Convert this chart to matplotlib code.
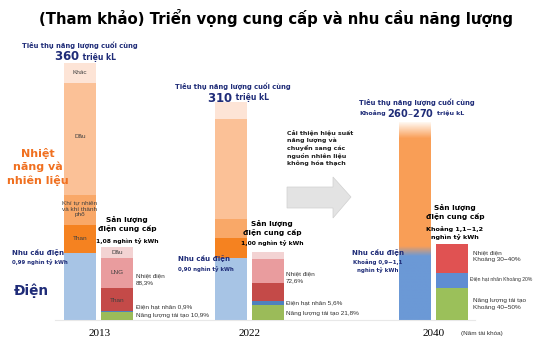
import numpy as np
import matplotlib.pyplot as plt

# final energy consumption (million kL), bottom -> top
demand_labels = ["Điện", "Than", "Khí", "Dầu", "Khác"]
demand_2013 = [94, 39, 42, 157, 28]
demand_2022 = [87, 28, 27, 139, 24]
demand_2040_elec = 92
demand_2040_fuel = 184

# electricity supply (thousand billion kWh), bottom -> top
supply_labels = ["Tái tạo", "Hạt nhân", "Than", "LNG", "Dầu"]
supply_2013 = [0.118, 0.010, 0.340, 0.444, 0.163]
supply_2022 = [0.218, 0.056, 0.280, 0.355, 0.090]
supply_2040 = [0.48, 0.22, 0.42]

W, H = 540, 360
fig = plt.figure(figsize=(5.4, 3.6), dpi=100)
fig.patch.set_facecolor("white")

# bars share one baseline at y = 320 px
base = 40
ax = fig.add_axes([0, 0, 1, 1])
ax.axis("off")
ax2 = ax.twinx()
ax2.set_ylim(-base / 67.6, (H - base) / 67.6)
ax2.axis("off")

dem_colors = ["#A7C4E5", "#F58220", "#F9A868", "#FBC197", "#FDE4D6"]
sup_colors = ["#9BBB59", "#4F81BD", "#C44A48", "#E99C9E", "#F3D3D3"]
bw = 32

def stack(axis, x, vals, colors):
    bottom = 0
    for v, c in zip(vals, colors):
        axis.bar(x, v, bw, bottom=bottom, color=c, linewidth=0)
        bottom += v

stack(ax, 80, demand_2013, dem_colors)
stack(ax, 231, demand_2022, dem_colors)
stack(ax2, 117, supply_2013, sup_colors)
stack(ax2, 268, supply_2022, sup_colors)
stack(ax2, 452, supply_2040, ["#9BC05A", "#5F8DD2", "#E05252"])

# 2040 demand bar with soft top and orange->blue blend
tot = demand_2040_elec + demand_2040_fuel
n = 200
ys = np.linspace(0, tot, n)
blue = np.array([0.42, 0.60, 0.84])
orange = np.array([0.98, 0.62, 0.34])
white = np.array([1.0, 0.97, 0.94])
img = np.zeros((n, 1, 3))
for i, yv in enumerate(ys):
    k = np.clip((yv - (demand_2040_elec - 3)) / 14, 0, 1)
    c = blue * (1 - k) + orange * k
    f = np.clip((tot - yv) / 22, 0, 1)
    img[i, 0] = white * (1 - f) + c * f
ax.imshow(img, extent=(415 - bw / 2, 415 + bw / 2, 0, tot), origin="lower",
          aspect="auto", interpolation="bilinear", zorder=2)
ax.set_xlim(0, W)
ax.set_ylim(-base / 0.714, (H - base) / 0.714)

# baseline
ax.plot([55, 475], [0, 0], color="#E8E8E8", lw=0.8)

# arrow
def px(x, y):
    return x / W, 1 - y / H
arrow_pts = [px(287, 187), px(333, 187), px(333, 177), px(351, 197),
             px(333, 218), px(333, 208), px(287, 208)]
fig.patches.append(plt.Polygon(arrow_pts, closed=True, transform=fig.transFigure,
                               facecolor="#E3E3E3", edgecolor="#D0D0D0", lw=0.5))

navy = "#1F2C78"
orange_t = "#F07020"
sans = "DejaVu Sans"
small = "Liberation Sans"

def t(x, y, s, size, **kw):
    kw.setdefault("ha", "center")
    kw.setdefault("va", "center")
    fig.text(x / W, 1 - y / H, s, fontsize=size, **kw)

t(276, 18, "(Tham khảo) Triển vọng cung cấp và nhu cầu năng lượng", 10.7,
  weight="bold", family=sans)

# 2013
t(80, 45, "Tiêu thụ năng lượng cuối cùng", 4.9, weight="bold", color=navy, family=sans)
t(80, 57, "$\\bf{360}$", 8.5, color=navy, ha="right", family=sans)
t(80, 57, " triệu kL", 5.5, weight="bold", color=navy, ha="left", family=sans)
t(38, 167, "Nhiệt\nnăng và\nnhiên liệu", 8, weight="bold", color=orange_t,
  family=sans, linespacing=1.3)
t(80, 73, "Khác", 4.6, color="#404040", family=small)
t(80, 137, "Dầu", 4.6, color="#404040", family=small)
t(80, 209, "Khí tự nhiên\nvà khí thành\nphố", 4.6, color="#404040", family=small,
  linespacing=1.2)
t(80, 239, "Than", 4.6, color="#404040", family=small)
t(38, 252, "Nhu cầu điện", 5.0, weight="bold", color=navy, family=sans)
t(40, 262, "0,99 nghìn tỷ kWh", 3.9, weight="bold", color=navy, family=sans)
t(31, 291, "Điện", 9.8, weight="bold", color=navy, family=sans)
t(127, 224, "Sản lượng\nđiện cung cấp", 5.3, weight="bold", family=sans, linespacing=1.25)
t(127, 241, "1,08 nghìn tỷ kWh", 4.3, weight="bold", family=sans)
t(117, 252, "Dầu", 4.6, color="#404040", family=small)
t(117, 273, "LNG", 4.6, color="#404040", family=small)
t(117, 300, "Than", 4.6, color="#404040", family=small)
t(136, 279, "Nhiệt điện\n88,3%", 4.6, ha="left", color="#303030", family=small,
  linespacing=1.4)
t(136, 307, "Điện hạt nhân 0,9%", 4.6, ha="left", color="#303030", family=small)
t(136, 316, "Năng lượng tái tạo 10,9%", 4.6, ha="left", color="#303030", family=small)
t(100, 333, "2013", 8, family="Liberation Serif")

# 2022
t(233, 86, "Tiêu thụ năng lượng cuối cùng", 4.9, weight="bold", color=navy, family=sans)
t(233, 98, "$\\bf{310}$", 8.5, color=navy, ha="right", family=sans)
t(233, 98, " triệu kL", 5.5, weight="bold", color=navy, ha="left", family=sans)
t(204, 258, "Nhu cầu điện", 5.0, weight="bold", color=navy, family=sans)
t(206, 269, "0,90 nghìn tỷ kWh", 3.9, weight="bold", color=navy, family=sans)
t(272, 228, "Sản lượng\nđiện cung cấp", 5.3, weight="bold", family=sans, linespacing=1.25)
t(272, 243, "1,00 nghìn tỷ kWh", 4.3, weight="bold", family=sans)
t(286, 277, "Nhiệt điện\n72,6%", 4.6, ha="left", color="#303030", family=small,
  linespacing=1.4)
t(286, 303, "Điện hạt nhân 5,6%", 4.6, ha="left", color="#303030", family=small)
t(286, 314, "Năng lượng tái tạo 21,8%", 4.6, ha="left", color="#303030", family=small)
t(250, 333, "2022", 8, family="Liberation Serif")

# arrow text
t(287, 148, "Cải thiện hiệu suất\nnăng lượng và\nchuyển sang các\nnguồn nhiên liệu\nkhông hóa thạch",
  4.5, weight="bold", ha="left", color="#202020", family=sans, linespacing=1.35)

# 2040
t(417, 102, "Tiêu thụ năng lượng cuối cùng", 4.9, weight="bold", color=navy, family=sans)
t(386, 113, "Khoảng", 4.5, weight="bold", color=navy, ha="right", family=sans)
t(387, 113, "$\\bf{260–270}$", 7, color=navy, ha="left", family=sans)
t(437, 113, "triệu kL", 4.5, weight="bold", color=navy, ha="left", family=sans)
t(378, 252, "Nhu cầu điện", 5.0, weight="bold", color=navy, family=sans)
t(378, 266, "Khoảng 0,9−1,1\nnghìn tỷ kWh", 4.0, weight="bold", color=navy, family=sans,
  linespacing=1.5)
t(455, 212, "Sản lượng\nđiện cung cấp", 5.3, weight="bold", family=sans, linespacing=1.25)
t(455, 233, "Khoảng 1,1−1,2\nnghìn tỷ kWh", 4.6, weight="bold", family=sans,
  linespacing=1.3)
t(473, 256, "Nhiệt điện\nKhoảng 30−40%", 4.6, ha="left", color="#303030", family=small,
  linespacing=1.4)
t(470, 280, "Điện hạt nhân Khoảng 20%", 3.6, ha="left", color="#303030", family=small)
t(473, 304, "Năng lượng tái tạo\nKhoảng 40−50%", 4.6, ha="left", color="#303030",
  family=small, linespacing=1.4)
t(434, 333, "2040", 8, family="Liberation Serif")
t(482, 333, "(Năm tài khóa)", 4.6, color="#303030", family=small)

fig.savefig("out.png", dpi=100)
